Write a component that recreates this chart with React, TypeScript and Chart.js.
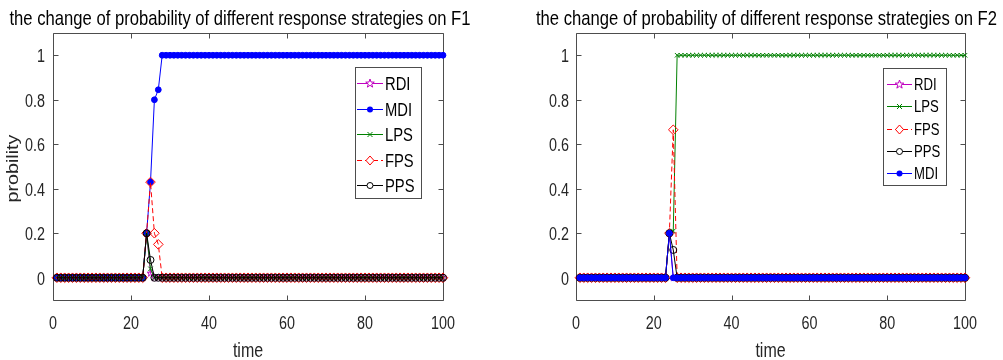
import React, { useEffect, useRef } from "react";
import { Chart, registerables } from "chart.js";

Chart.register(...registerables);

// ---------------- data ----------------
const TIME = [
  1, 2, 3, 4, 5, 6, 7, 8, 9, 10,
  11, 12, 13, 14, 15, 16, 17, 18, 19, 20,
  21, 22, 23, 24, 25, 26, 27, 28, 29, 30,
  31, 32, 33, 34, 35, 36, 37, 38, 39, 40,
  41, 42, 43, 44, 45, 46, 47, 48, 49, 50,
  51, 52, 53, 54, 55, 56, 57, 58, 59, 60,
  61, 62, 63, 64, 65, 66, 67, 68, 69, 70,
  71, 72, 73, 74, 75, 76, 77, 78, 79, 80,
  81, 82, 83, 84, 85, 86, 87, 88, 89, 90,
  91, 92, 93, 94, 95, 96, 97, 98, 99, 100,
];

const X_TICKS = [0, 20, 40, 60, 80, 100];
const Y_TICKS = [0, 0.2, 0.4, 0.6, 0.8, 1];

const TITLE_F1 = "the change of probability of different response strategies on F1";
const TITLE_F2 = "the change of probability of different response strategies on F2";
const X_LABEL = "time";
const Y_LABEL = "probility";

// F1
const F1_RDI = [
  0, 0, 0, 0, 0, 0, 0, 0, 0, 0,
  0, 0, 0, 0, 0, 0, 0, 0, 0, 0,
  0, 0, 0, 0.2, 0.02, 0, 0, 0, 0, 0,
  0, 0, 0, 0, 0, 0, 0, 0, 0, 0,
  0, 0, 0, 0, 0, 0, 0, 0, 0, 0,
  0, 0, 0, 0, 0, 0, 0, 0, 0, 0,
  0, 0, 0, 0, 0, 0, 0, 0, 0, 0,
  0, 0, 0, 0, 0, 0, 0, 0, 0, 0,
  0, 0, 0, 0, 0, 0, 0, 0, 0, 0,
  0, 0, 0, 0, 0, 0, 0, 0, 0, 0,
];
const F1_MDI = [
  0, 0, 0, 0, 0, 0, 0, 0, 0, 0,
  0, 0, 0, 0, 0, 0, 0, 0, 0, 0,
  0, 0, 0, 0.2, 0.43, 0.8, 0.845, 1, 1, 1,
  1, 1, 1, 1, 1, 1, 1, 1, 1, 1,
  1, 1, 1, 1, 1, 1, 1, 1, 1, 1,
  1, 1, 1, 1, 1, 1, 1, 1, 1, 1,
  1, 1, 1, 1, 1, 1, 1, 1, 1, 1,
  1, 1, 1, 1, 1, 1, 1, 1, 1, 1,
  1, 1, 1, 1, 1, 1, 1, 1, 1, 1,
  1, 1, 1, 1, 1, 1, 1, 1, 1, 1,
];
const F1_LPS = [
  0, 0, 0, 0, 0, 0, 0, 0, 0, 0,
  0, 0, 0, 0, 0, 0, 0, 0, 0, 0,
  0, 0, 0, 0.2, 0.04, 0, 0, 0, 0, 0,
  0, 0, 0, 0, 0, 0, 0, 0, 0, 0,
  0, 0, 0, 0, 0, 0, 0, 0, 0, 0,
  0, 0, 0, 0, 0, 0, 0, 0, 0, 0,
  0, 0, 0, 0, 0, 0, 0, 0, 0, 0,
  0, 0, 0, 0, 0, 0, 0, 0, 0, 0,
  0, 0, 0, 0, 0, 0, 0, 0, 0, 0,
  0, 0, 0, 0, 0, 0, 0, 0, 0, 0,
];
const F1_FPS = [
  0, 0, 0, 0, 0, 0, 0, 0, 0, 0,
  0, 0, 0, 0, 0, 0, 0, 0, 0, 0,
  0, 0, 0, 0.2, 0.43, 0.2, 0.15, 0, 0, 0,
  0, 0, 0, 0, 0, 0, 0, 0, 0, 0,
  0, 0, 0, 0, 0, 0, 0, 0, 0, 0,
  0, 0, 0, 0, 0, 0, 0, 0, 0, 0,
  0, 0, 0, 0, 0, 0, 0, 0, 0, 0,
  0, 0, 0, 0, 0, 0, 0, 0, 0, 0,
  0, 0, 0, 0, 0, 0, 0, 0, 0, 0,
  0, 0, 0, 0, 0, 0, 0, 0, 0, 0,
];
const F1_PPS = [
  0, 0, 0, 0, 0, 0, 0, 0, 0, 0,
  0, 0, 0, 0, 0, 0, 0, 0, 0, 0,
  0, 0, 0, 0.2, 0.08, 0, 0, 0, 0, 0,
  0, 0, 0, 0, 0, 0, 0, 0, 0, 0,
  0, 0, 0, 0, 0, 0, 0, 0, 0, 0,
  0, 0, 0, 0, 0, 0, 0, 0, 0, 0,
  0, 0, 0, 0, 0, 0, 0, 0, 0, 0,
  0, 0, 0, 0, 0, 0, 0, 0, 0, 0,
  0, 0, 0, 0, 0, 0, 0, 0, 0, 0,
  0, 0, 0, 0, 0, 0, 0, 0, 0, 0,
];

// F2
const F2_RDI = [
  0, 0, 0, 0, 0, 0, 0, 0, 0, 0,
  0, 0, 0, 0, 0, 0, 0, 0, 0, 0,
  0, 0, 0, 0.2, 0, 0, 0, 0, 0, 0,
  0, 0, 0, 0, 0, 0, 0, 0, 0, 0,
  0, 0, 0, 0, 0, 0, 0, 0, 0, 0,
  0, 0, 0, 0, 0, 0, 0, 0, 0, 0,
  0, 0, 0, 0, 0, 0, 0, 0, 0, 0,
  0, 0, 0, 0, 0, 0, 0, 0, 0, 0,
  0, 0, 0, 0, 0, 0, 0, 0, 0, 0,
  0, 0, 0, 0, 0, 0, 0, 0, 0, 0,
];
const F2_LPS = [
  0, 0, 0, 0, 0, 0, 0, 0, 0, 0,
  0, 0, 0, 0, 0, 0, 0, 0, 0, 0,
  0, 0, 0, 0.2, 0.21, 1, 1, 1, 1, 1,
  1, 1, 1, 1, 1, 1, 1, 1, 1, 1,
  1, 1, 1, 1, 1, 1, 1, 1, 1, 1,
  1, 1, 1, 1, 1, 1, 1, 1, 1, 1,
  1, 1, 1, 1, 1, 1, 1, 1, 1, 1,
  1, 1, 1, 1, 1, 1, 1, 1, 1, 1,
  1, 1, 1, 1, 1, 1, 1, 1, 1, 1,
  1, 1, 1, 1, 1, 1, 1, 1, 1, 1,
];
const F2_FPS = [
  0, 0, 0, 0, 0, 0, 0, 0, 0, 0,
  0, 0, 0, 0, 0, 0, 0, 0, 0, 0,
  0, 0, 0, 0.2, 0.665, 0, 0, 0, 0, 0,
  0, 0, 0, 0, 0, 0, 0, 0, 0, 0,
  0, 0, 0, 0, 0, 0, 0, 0, 0, 0,
  0, 0, 0, 0, 0, 0, 0, 0, 0, 0,
  0, 0, 0, 0, 0, 0, 0, 0, 0, 0,
  0, 0, 0, 0, 0, 0, 0, 0, 0, 0,
  0, 0, 0, 0, 0, 0, 0, 0, 0, 0,
  0, 0, 0, 0, 0, 0, 0, 0, 0, 0,
];
const F2_PPS = [
  0, 0, 0, 0, 0, 0, 0, 0, 0, 0,
  0, 0, 0, 0, 0, 0, 0, 0, 0, 0,
  0, 0, 0, 0.2, 0.125, 0, 0, 0, 0, 0,
  0, 0, 0, 0, 0, 0, 0, 0, 0, 0,
  0, 0, 0, 0, 0, 0, 0, 0, 0, 0,
  0, 0, 0, 0, 0, 0, 0, 0, 0, 0,
  0, 0, 0, 0, 0, 0, 0, 0, 0, 0,
  0, 0, 0, 0, 0, 0, 0, 0, 0, 0,
  0, 0, 0, 0, 0, 0, 0, 0, 0, 0,
  0, 0, 0, 0, 0, 0, 0, 0, 0, 0,
];
const F2_MDI = [
  0, 0, 0, 0, 0, 0, 0, 0, 0, 0,
  0, 0, 0, 0, 0, 0, 0, 0, 0, 0,
  0, 0, 0, 0.2, 0, 0, 0, 0, 0, 0,
  0, 0, 0, 0, 0, 0, 0, 0, 0, 0,
  0, 0, 0, 0, 0, 0, 0, 0, 0, 0,
  0, 0, 0, 0, 0, 0, 0, 0, 0, 0,
  0, 0, 0, 0, 0, 0, 0, 0, 0, 0,
  0, 0, 0, 0, 0, 0, 0, 0, 0, 0,
  0, 0, 0, 0, 0, 0, 0, 0, 0, 0,
  0, 0, 0, 0, 0, 0, 0, 0, 0, 0,
];

// plotting order (= legend order) of each panel
const F1_ORDER = ["RDI", "MDI", "LPS", "FPS", "PPS"];
const F1_VALUES = [F1_RDI, F1_MDI, F1_LPS, F1_FPS, F1_PPS];
const F2_ORDER = ["RDI", "LPS", "FPS", "PPS", "MDI"];
const F2_VALUES = [F2_RDI, F2_LPS, F2_FPS, F2_PPS, F2_MDI];

// ---------------- styles ----------------
const FONT = "'Liberation Sans', Arial, Helvetica, sans-serif";
const SQUEEZE = 0.82; // the figure text is horizontally condensed
const AXIS_COLOR = "#4d4d4d";
const TEXT_COLOR = "#262626";

type Marker = "star" | "dot" | "x" | "diamond" | "o";
const STYLE: Record<string, { color: string; marker: Marker; dash: number[] }> = {
  RDI: { color: "#c000c0", marker: "star", dash: [] },
  MDI: { color: "#0000ff", marker: "dot", dash: [] },
  LPS: { color: "#008000", marker: "x", dash: [] },
  FPS: { color: "#ff0000", marker: "diamond", dash: [5, 3] },
  PPS: { color: "#000000", marker: "o", dash: [] },
};

function drawText(
  ctx: CanvasRenderingContext2D,
  text: string,
  x: number,
  y: number,
  size: number,
  align: CanvasTextAlign,
  color: string,
  rotate = false
) {
  ctx.save();
  ctx.translate(x, y);
  ctx.scale(SQUEEZE, 1);
  if (rotate) ctx.rotate(-Math.PI / 2);
  ctx.font = `${size}px ${FONT}`;
  ctx.textAlign = align;
  ctx.textBaseline = "alphabetic";
  ctx.fillStyle = color;
  ctx.fillText(text, 0, 0);
  ctx.restore();
}

function starPath(ctx: CanvasRenderingContext2D, cx: number, cy: number, R: number) {
  ctx.beginPath();
  for (let i = 0; i < 10; i++) {
    const a = -Math.PI / 2 + (i * Math.PI) / 5;
    const r = i % 2 === 0 ? R : R * 0.4;
    const px = cx + r * Math.cos(a);
    const py = cy + r * Math.sin(a);
    if (i === 0) ctx.moveTo(px, py);
    else ctx.lineTo(px, py);
  }
  ctx.closePath();
}

function makeStarImage(color: string, R: number) {
  const size = Math.ceil(R * 2 + 3);
  const c = document.createElement("canvas");
  c.width = size;
  c.height = size;
  const ctx = c.getContext("2d")!;
  ctx.strokeStyle = color;
  ctx.lineWidth = 1;
  starPath(ctx, size / 2, size / 2, R);
  ctx.stroke();
  return c;
}

function drawLegendMarker(ctx: CanvasRenderingContext2D, marker: Marker, x: number, y: number, color: string) {
  ctx.save();
  ctx.strokeStyle = color;
  ctx.fillStyle = color;
  ctx.lineWidth = 1;
  ctx.setLineDash([]);
  if (marker === "star") {
    starPath(ctx, x, y, 4.5);
    ctx.fillStyle = "#fff";
    ctx.fill();
    ctx.stroke();
  } else if (marker === "dot") {
    ctx.beginPath();
    ctx.arc(x, y, 3, 0, Math.PI * 2);
    ctx.fill();
  } else if (marker === "x") {
    ctx.beginPath();
    ctx.moveTo(x - 2.5, y - 2.5);
    ctx.lineTo(x + 2.5, y + 2.5);
    ctx.moveTo(x - 2.5, y + 2.5);
    ctx.lineTo(x + 2.5, y - 2.5);
    ctx.stroke();
  } else if (marker === "diamond") {
    ctx.beginPath();
    ctx.moveTo(x, y - 4.5);
    ctx.lineTo(x + 4, y);
    ctx.lineTo(x, y + 4.5);
    ctx.lineTo(x - 4, y);
    ctx.closePath();
    ctx.fillStyle = "#fff";
    ctx.fill();
    ctx.stroke();
  } else {
    ctx.beginPath();
    ctx.arc(x, y, 3, 0, Math.PI * 2);
    ctx.fillStyle = "#fff";
    ctx.fill();
    ctx.stroke();
  }
  ctx.restore();
}

const boxPlugin = {
  id: "matlabBox",
  beforeDatasetsDraw(chart: any) {
    const { ctx, chartArea: a, scales } = chart;
    const x = scales.x;
    const y = scales.y;
    const L = Math.round(a.left) + 0.5;
    const R = Math.round(a.right) + 0.5;
    const T = Math.round(a.top) + 0.5;
    const B = Math.round(a.bottom) + 0.5;
    ctx.save();
    ctx.strokeStyle = AXIS_COLOR;
    ctx.lineWidth = 1;
    ctx.setLineDash([]);
    ctx.beginPath();
    ctx.rect(L, T, R - L, B - T);
    for (const v of X_TICKS) {
      const px = Math.round(x.getPixelForValue(v)) + 0.5;
      ctx.moveTo(px, B);
      ctx.lineTo(px, B - 5);
      ctx.moveTo(px, T);
      ctx.lineTo(px, T + 5);
    }
    for (const v of Y_TICKS) {
      const py = Math.round(y.getPixelForValue(v)) + 0.5;
      ctx.moveTo(L, py);
      ctx.lineTo(L + 5, py);
      ctx.moveTo(R, py);
      ctx.lineTo(R - 5, py);
    }
    ctx.stroke();
    ctx.restore();
  },
};

// title, tick labels and axis titles (condensed like the original figure)
const textPlugin = {
  id: "figText",
  afterDraw(chart: any, _args: any, opts: any) {
    const { ctx, chartArea: a, scales } = chart;
    const x = scales.x;
    const y = scales.y;
    drawText(ctx, opts.title, chart.width / 2, 25, 20.3, "center", "#000");
    for (const v of X_TICKS) {
      drawText(ctx, String(v), x.getPixelForValue(v), 329, 17.5, "center", TEXT_COLOR);
    }
    for (const v of Y_TICKS) {
      drawText(ctx, String(v), a.left - opts.yTickGap, y.getPixelForValue(v) + 7, 17.5, "right", TEXT_COLOR);
    }
    drawText(ctx, X_LABEL, (a.left + a.right) / 2, 357, 19.5, "center", TEXT_COLOR);
    if (opts.showYLabel) {
      drawText(ctx, Y_LABEL, 18.3, (a.top + a.bottom) / 2 + 2, 19.7, "center", TEXT_COLOR, true);
    }
  },
};

const legendPlugin = {
  id: "boxLegend",
  afterDatasetsDraw(chart: any, _args: any, opts: any) {
    const { ctx } = chart;
    const { left, top, width, height, rows, lineStart, lineEnd, textX, fontSize } = opts;
    ctx.save();
    ctx.fillStyle = "#fff";
    ctx.fillRect(left, top, width, height);
    ctx.strokeStyle = AXIS_COLOR;
    ctx.lineWidth = 1;
    ctx.strokeRect(left + 0.5, top + 0.5, width, height);
    chart.data.datasets.forEach((ds: any, i: number) => {
      const st = STYLE[ds.label];
      const yy = Math.round(rows[i]) + 0.5;
      ctx.strokeStyle = st.color;
      ctx.lineWidth = 1;
      ctx.setLineDash(st.dash);
      ctx.beginPath();
      ctx.moveTo(lineStart, yy);
      ctx.lineTo(lineEnd, yy);
      ctx.stroke();
      ctx.setLineDash([]);
      drawLegendMarker(ctx, st.marker, (lineStart + lineEnd) / 2, yy, st.color);
      drawText(ctx, ds.label, textX, yy + fontSize * 0.36, fontSize, "left", "#000");
    });
    ctx.restore();
  },
};

function buildDatasets(order: string[], values: number[][], starImg: HTMLCanvasElement) {
  const n = order.length;
  return order.map((name, idx) => {
    const st = STYLE[name];
    const vals = values[idx];
    const ds: any = {
      label: name,
      data: TIME.map((t, i) => ({ x: t, y: vals[i] })),
      borderColor: st.color,
      borderWidth: 1,
      borderDash: st.dash,
      tension: 0,
      fill: false,
      clip: false,
      order: n - idx,
      pointBorderColor: st.color,
      pointBorderWidth: 1,
      pointHoverRadius: 0,
    };
    if (st.marker === "star") {
      ds.pointStyle = starImg;
      ds.pointRadius = 4;
    } else if (st.marker === "dot") {
      ds.pointStyle = "circle";
      ds.pointRadius = 2.9;
      ds.pointBackgroundColor = st.color;
    } else if (st.marker === "x") {
      ds.pointStyle = "crossRot";
      ds.pointRadius = 3.2;
    } else if (st.marker === "diamond") {
      ds.pointStyle = "rectRot";
      ds.pointRadius = 4.8;
      ds.pointBackgroundColor = "rgba(0,0,0,0)";
    } else {
      ds.pointStyle = "circle";
      ds.pointRadius = 3.5;
      ds.pointBackgroundColor = "rgba(0,0,0,0)";
    }
    return ds;
  });
}

function buildConfig(opts: {
  title: string;
  order: string[];
  values: number[][];
  yAxisWidth: number;
  rightPad: number;
  yTickGap: number;
  showYLabel: boolean;
  legend: any;
  starImg: HTMLCanvasElement;
}): any {
  return {
    type: "line",
    data: { datasets: buildDatasets(opts.order, opts.values, opts.starImg) },
    plugins: [boxPlugin, legendPlugin, textPlugin],
    options: {
      animation: false,
      responsive: false,
      maintainAspectRatio: false,
      events: [],
      layout: { padding: { top: 33, right: opts.rightPad, left: 0, bottom: 0 } },
      plugins: {
        legend: { display: false },
        tooltip: { enabled: false },
        title: { display: false },
        boxLegend: opts.legend,
        figText: { title: opts.title, yTickGap: opts.yTickGap, showYLabel: opts.showYLabel },
      },
      scales: {
        x: {
          type: "linear",
          min: 0,
          max: 100,
          afterBuildTicks: (s: any) => {
            s.ticks = X_TICKS.map((v) => ({ value: v }));
          },
          afterFit: (s: any) => {
            s.height = 60;
          },
          ticks: { display: false },
          grid: { display: false, drawTicks: false },
          border: { display: false },
          title: { display: false, text: X_LABEL },
        },
        y: {
          type: "linear",
          position: "left",
          min: -0.1,
          max: 1.1,
          afterBuildTicks: (s: any) => {
            s.ticks = Y_TICKS.map((v) => ({ value: v }));
          },
          afterFit: (s: any) => {
            s.width = opts.yAxisWidth;
          },
          ticks: { display: false },
          grid: { display: false, drawTicks: false },
          border: { display: false },
          title: { display: false, text: Y_LABEL },
        },
      },
    },
  };
}

export default function App() {
  const leftRef = useRef<HTMLCanvasElement | null>(null);
  const rightRef = useRef<HTMLCanvasElement | null>(null);

  useEffect(() => {
    const starImg = makeStarImage(STYLE.RDI.color, 3.6);
    const c1 = new Chart(
      leftRef.current!,
      buildConfig({
        title: TITLE_F1,
        order: F1_ORDER,
        values: F1_VALUES,
        yAxisWidth: 53,
        rightPad: 37,
        yTickGap: 8,
        showYLabel: true,
        starImg,
        legend: {
          left: 355,
          top: 67,
          width: 66,
          height: 131,
          rows: [83, 108.5, 134, 159.5, 185],
          lineStart: 357,
          lineEnd: 383,
          textX: 385,
          fontSize: 18,
        },
      })
    );
    const c2 = new Chart(
      rightRef.current!,
      buildConfig({
        title: TITLE_F2,
        order: F2_ORDER,
        values: F2_VALUES,
        yAxisWidth: 46,
        rightPad: 38,
        yTickGap: 7,
        showYLabel: false,
        starImg,
        legend: {
          left: 353,
          top: 68,
          width: 63,
          height: 117,
          rows: [84, 106, 128.5, 151, 173],
          lineStart: 357,
          lineEnd: 382,
          textX: 384,
          fontSize: 16,
        },
      })
    );
    return () => {
      c1.destroy();
      c2.destroy();
    };
  }, []);

  return (
    <div
      style={{
        position: "absolute",
        left: 0,
        top: 0,
        width: 1003,
        height: 360,
        background: "#fff",
        overflow: "hidden",
      }}
    >
      <canvas
        ref={leftRef}
        width={480}
        height={360}
        style={{ position: "absolute", left: 0, top: 0, width: 480, height: 360 }}
      />
      <canvas
        ref={rightRef}
        width={473}
        height={360}
        style={{ position: "absolute", left: 530, top: 0, width: 473, height: 360 }}
      />
    </div>
  );
}
